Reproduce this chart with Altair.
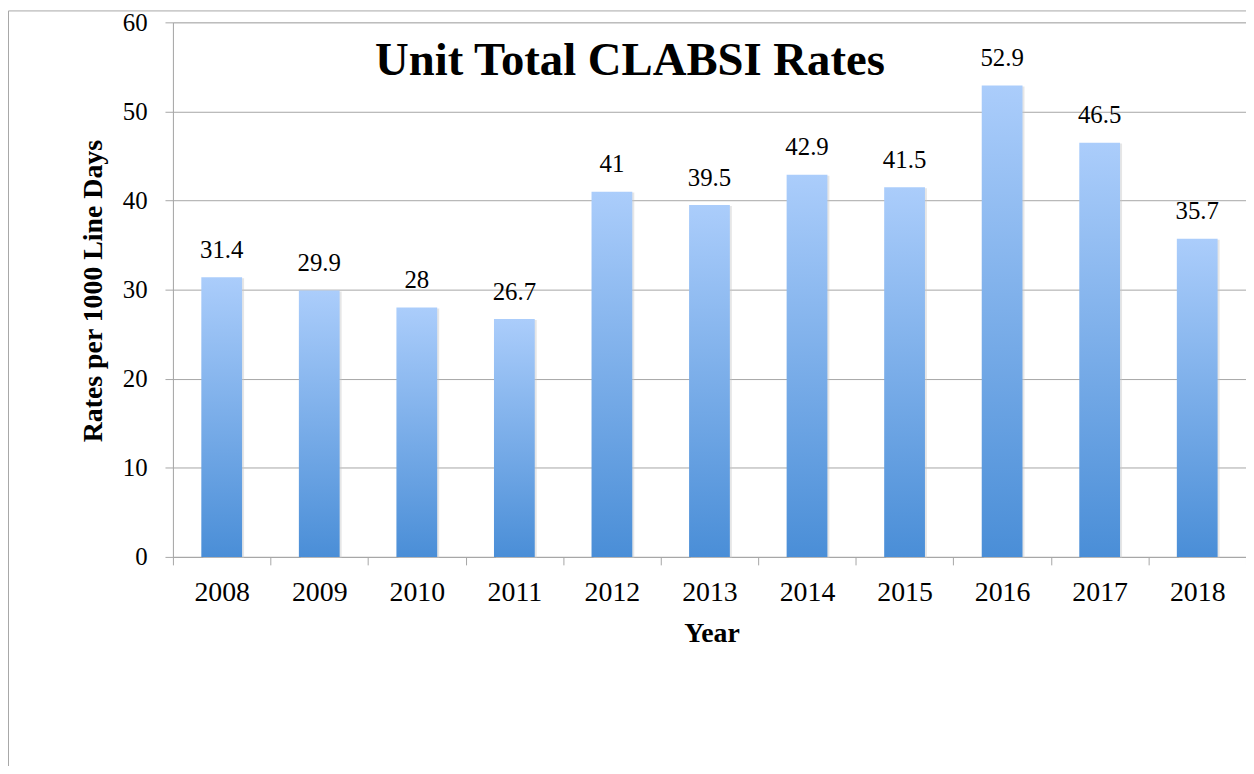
import altair as alt
import pandas as pd

years = ["2008", "2009", "2010", "2011", "2012", "2013", "2014", "2015", "2016", "2017", "2018"]
rates = [31.4, 29.9, 28, 26.7, 41, 39.5, 42.9, 41.5, 52.9, 46.5, 35.7]
rate_labels = ["31.4", "29.9", "28", "26.7", "41", "39.5", "42.9", "41.5", "52.9", "46.5", "35.7"]
y_ticks = [0, 10, 20, 30, 40, 50, 60]

df = pd.DataFrame({"Year": years, "Rate": rates, "Label": rate_labels})

FONT = "Liberation Serif"
GRAY = "#a6a6a6"
W, H = 1080, 538

x_enc = alt.X(
    "Year:N",
    sort=years,
    scale=alt.Scale(paddingInner=0, paddingOuter=0),
    axis=alt.Axis(
        title="Year",
        tickBand="extent",
        labelAngle=0,
        labelFont=FONT,
        labelFontSize=28,
        labelColor="black",
        labelPadding=14,
        tickSize=8,
        tickColor=GRAY,
        domainColor=GRAY,
        grid=False,
        titleFont=FONT,
        titleFontSize=28,
        titleFontWeight="bold",
        titleColor="black",
        titleY=85,
        titleX=542,
        titleBaseline="alphabetic",
    ),
)
y_enc = alt.Y(
    "Rate:Q",
    scale=alt.Scale(domain=[0, 60], nice=False),
    axis=alt.Axis(
        values=y_ticks,
        title="Rates per 1000 Line Days",
        labelFont=FONT,
        labelFontSize=25,
        labelColor="black",
        labelPadding=18,
        tickSize=8,
        tickColor=GRAY,
        domainColor=GRAY,
        gridColor=GRAY,
        grid=True,
        titleFont=FONT,
        titleFontSize=28,
        titleFontWeight="bold",
        titleColor="black",
        titleAngle=270,
        titleX=-72,
        titleY=270,
        titleAlign="center",
        titleBaseline="alphabetic",
    ),
)

base = alt.Chart(df)

shadow = base.mark_bar(
    color="#c8c8c8", opacity=0.45, xOffset=2, yOffset=1,
    width=alt.RelativeBandSize(0.418),
).encode(x=x_enc, y=y_enc)

bars = base.mark_bar(
    width=alt.RelativeBandSize(0.418),
    color=alt.Gradient(
        gradient="linear",
        stops=[
            alt.GradientStop(color="#abcdfb", offset=0),
            alt.GradientStop(color="#4a8ed7", offset=1),
        ],
        x1=0, x2=0, y1=0, y2=1,
    ),
).encode(x=x_enc, y=y_enc)

text = base.mark_text(
    font=FONT, fontSize=25, color="black", baseline="alphabetic", dy=-19.5
).encode(x=x_enc, y=y_enc, text="Label:N")

frame = alt.Chart(pd.DataFrame({"f": [0]})).mark_rect(
    fill=None, stroke=GRAY, strokeWidth=1, clip=False
).encode(
    x=alt.value(-165.5), x2=alt.value(1300),
    y=alt.value(-11.5), y2=alt.value(900),
)

chart = alt.layer(frame, shadow, bars, text).properties(
    width=W,
    height=H,
    autosize=alt.AutoSizeParams(type="none"),
    padding={"left": 166, "top": 12, "right": 0, "bottom": 208},
    title=alt.TitleParams(
        text="Unit Total CLABSI Rates",
        font=FONT,
        fontSize=47,
        fontWeight="bold",
        color="black",
        anchor="middle",
        frame="group",
        offset=0,
        dx=-80,
        dy=112,
        baseline="alphabetic",
    ),
).configure_view(stroke=None).configure(background="white")

chart.save("out.html", embed_options={"renderer": "svg", "actions": False})
